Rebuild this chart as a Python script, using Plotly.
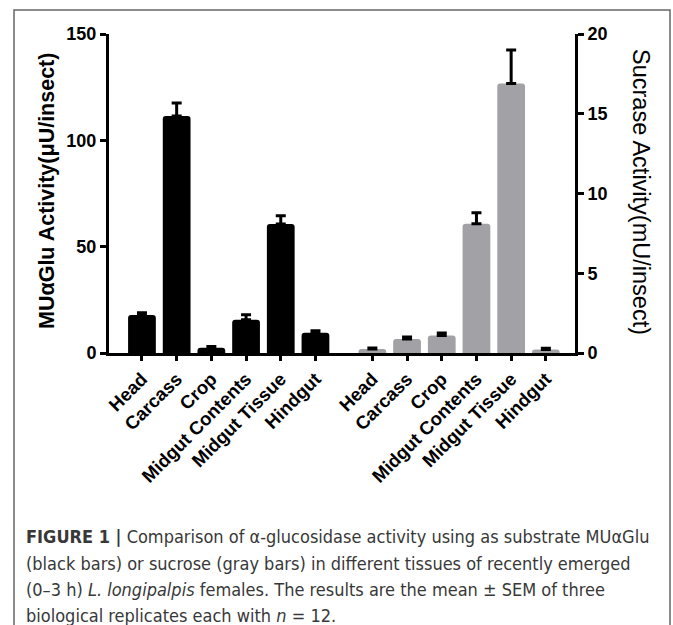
import plotly.graph_objects as go

tissues = ["Head", "Carcass", "Crop", "Midgut Contents", "Midgut Tissue", "Hindgut"]
mu_glu = [17.9, 111.4, 2.5, 15.6, 60.7, 9.5]
mu_glu_top = [18.9, 117.5, 3.0, 18.0, 64.5, 10.5]
sucrase = [0.25, 0.88, 1.1, 8.1, 16.9, 0.22]
sucrase_top = [0.32, 1.0, 1.25, 8.8, 19.0, 0.30]

group_gap = 1.64
x_black = [i for i in range(len(tissues))]
x_gray = [i + len(tissues) - 1 + group_gap for i in range(len(tissues))]

W, H = 673, 625
L, R, T, B = 109, 575, 34, 353

def px_x(px):
    return (px - L) / (R - L)

def px_y(py):
    return (B - py) / (B - T)

fig = go.Figure()
fig.add_trace(go.Bar(
    x=x_black, y=mu_glu, width=0.8, marker=dict(color="#000000", cornerradius=3, line=dict(width=0)),
    error_y=dict(type="data", symmetric=False,
                 array=[t - v for t, v in zip(mu_glu_top, mu_glu)],
                 arrayminus=[0] * len(mu_glu), color="#000000", thickness=3, width=5),
    yaxis="y", showlegend=False,
))
fig.add_trace(go.Bar(
    x=x_gray, y=sucrase, width=0.8, marker=dict(color="#a2a2a6", cornerradius=3, line=dict(width=0)),
    error_y=dict(type="data", symmetric=False,
                 array=[t - v for t, v in zip(sucrase_top, sucrase)],
                 arrayminus=[0] * len(sucrase), color="#000000", thickness=3, width=5),
    yaxis="y2", showlegend=False,
))

FAM = "Liberation Sans, Arial, sans-serif"
tick_font = dict(family=FAM, size=18, color="#000000", weight="bold")

fig.update_layout(
    width=W, height=H,
    margin=dict(l=L, r=W - R, t=T, b=H - B, pad=0),
    paper_bgcolor="white", plot_bgcolor="white",
    xaxis=dict(
        range=[-0.95, x_gray[-1] + 0.84],
        tickvals=x_black + x_gray, ticktext=tissues + tissues,
        tickangle=-45, tickfont=dict(tick_font, size=18.5),
        showline=True, linecolor="#000000", linewidth=3,
        ticks="outside", ticklen=5, tickwidth=3, tickcolor="#000000",
        showgrid=False, zeroline=False,
    ),
    yaxis=dict(
        range=[0, 150], tickvals=[0, 50, 100, 150],
        tickfont=tick_font,
        showline=True, linecolor="#000000", linewidth=3,
        ticks="outside", ticklen=6, tickwidth=3, tickcolor="#000000",
        showgrid=False, zeroline=False,
    ),
    yaxis2=dict(
        range=[0, 20], tickvals=[0, 5, 10, 15, 20],
        overlaying="y", side="right", anchor="x",
        tickfont=tick_font,
        showline=True, linecolor="#000000", linewidth=3,
        ticks="outside", ticklen=6, tickwidth=3, tickcolor="#000000",
        showgrid=False, zeroline=False,
    ),
    bargap=0.2,
)

# axis titles
fig.add_annotation(
    text="MUαGlu Activity(μU/insect)", xref="paper", yref="paper",
    x=px_x(47), y=px_y(191), textangle=-90, showarrow=False,
    font=dict(family=FAM, size=21.5, color="#000000", weight="bold"),
    xanchor="center", yanchor="middle",
)
fig.add_annotation(
    text="Sucrase Activity(mU/insect)", xref="paper", yref="paper",
    x=px_x(641), y=px_y(192), textangle=90, showarrow=False,
    font=dict(family=FAM, size=23.5, color="#000000"),
    xanchor="center", yanchor="middle",
)

# frame
fig.add_shape(type="rect", xref="paper", yref="paper",
              x0=px_x(14), x1=px_x(670), y0=px_y(660), y1=px_y(10),
              line=dict(color="#666666", width=1.5), fillcolor="rgba(0,0,0,0)", layer="below")

caption_lines = [
    "<b>FIGURE 1 |</b> Comparison of α-glucosidase activity using as substrate MUαGlu",
    "(black bars) or sucrose (gray bars) in different tissues of recently emerged",
    "(0–3 h) <i>L. longipalpis</i> females. The results are the mean ± SEM of three",
    "biological replicates each with <i>n</i> = 12.",
]
caption_y = [536, 563, 589, 615]
cap_font = dict(family="Liberation Sans Narrow, DejaVu Sans Condensed, Roboto Condensed, Liberation Sans, sans-serif",
                size=18, color="#383838")
for line, cy in zip(caption_lines, caption_y):
    fig.add_annotation(text=line, xref="paper", yref="paper", x=px_x(24), y=px_y(cy),
                       xanchor="left", yanchor="middle", showarrow=False, font=cap_font, align="left")

fig.write_html("out.html", config={"displayModeBar": False},
               post_script="document.body.style.margin='0';document.body.style.overflow='hidden';")
